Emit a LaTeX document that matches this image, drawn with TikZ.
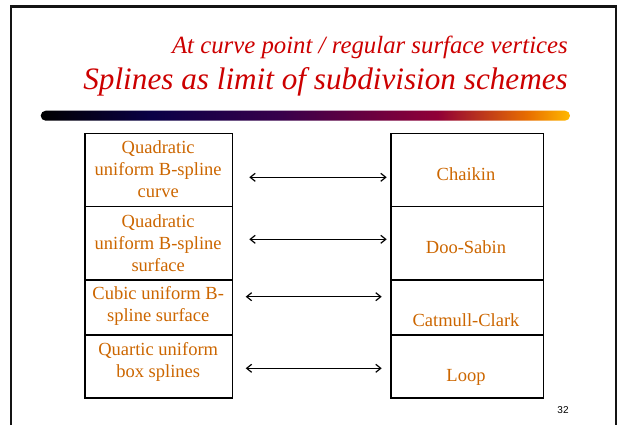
\documentclass[tikz,border=0pt]{standalone}
\usepackage{fontspec}
\setmainfont{Liberation Serif}[ItalicFont={Liberation Serif Italic}]
\newfontfamily\pagenumfont{Liberation Sans}
\newfontfamily\titleitfont{Liberation Serif Italic}
\usetikzlibrary{arrows.meta}
\definecolor{titlered}{RGB}{204,0,0}
\definecolor{boxtext}{RGB}{204,102,0}
\definecolor{framegray}{RGB}{20,20,20}
\definecolor{c0}{RGB}{0,0,0}
\definecolor{c1}{RGB}{10,0,70}
\definecolor{c2}{RGB}{55,0,75}
\definecolor{c3}{RGB}{145,0,55}
\definecolor{c4}{RGB}{232,110,0}
\definecolor{c5}{RGB}{255,185,0}
\pgfdeclarehorizontalshading{barshadeb}{100bp}{%
  color(0bp)=(c0);
  color(25bp)=(c0);
  color(35.5bp)=(c1);
  color(47.5bp)=(c2);
  color(62.5bp)=(c3);
  color(71bp)=(c4);
  color(75bp)=(c5);
  color(100bp)=(c5)}
\begin{document}
\begin{tikzpicture}[x=1pt,y=-1pt,
  cell/.style={draw=black,line width=1.4pt,inner sep=0pt,anchor=north west},
  celltext/.style={text=boxtext,align=center,inner sep=0pt,
    font=\fontsize{18.5}{22}\selectfont},
  linkarrow/.style={{Straight Barb[length=5pt,width=8pt,line width=1.2pt]}-{Straight Barb[length=5pt,width=8pt,line width=1.2pt]},line width=1.3pt,black},
  titlefont/.style={text=titlered,inner sep=0pt,anchor=base east}]
\useasboundingbox (0,0) rectangle (620,425);
% frame
\draw[framegray,line width=2.2pt] (11,425) -- (11,6.5) -- (616,6.5) -- (616,425);
% titles
\node[titlefont,font=\titleitfont\fontsize{24.8}{28}\selectfont] (t1) at (568,53.3) {At curve point / regular surface vertices};
\node[titlefont,font=\titleitfont\fontsize{31.2}{34}\selectfont] (t2) at (568,90) {Splines as limit of subdivision schemes};
% bar
\shade[shading=barshadeb,rounded corners=5pt] (40.7,110.7) rectangle (570,120.7);
% left cells
\node[cell,minimum width=147.7pt,minimum height=73pt] (L1) at (84.3,132.7) {};
\node[cell,minimum width=147.7pt,minimum height=73.6pt] (L2) at (84.3,205.7) {};
\node[cell,minimum width=147.7pt,minimum height=55pt] (L3) at (84.3,279.3) {};
\node[cell,minimum width=147.7pt,minimum height=63pt] (L4) at (84.3,334.3) {};
% right cells
\node[cell,minimum width=152.4pt,minimum height=73pt] (R1) at (390.3,132.7) {};
\node[cell,minimum width=152.4pt,minimum height=73.6pt] (R2) at (390.3,205.7) {};
\node[cell,minimum width=152.4pt,minimum height=55pt] (R3) at (390.3,279.3) {};
\node[cell,minimum width=152.4pt,minimum height=63pt] (R4) at (390.3,334.3) {};
% left texts
\node[celltext] (lt1) at (158.2,171.45) {\strut Quadratic\\\strut uniform B-spline\\\strut curve};
\node[celltext] (lt2) at (158.2,244.8) {\strut Quadratic\\\strut uniform B-spline\\\strut surface};
\node[celltext] (lt3) at (158.2,306.45) {\strut Cubic uniform B-\\\strut spline surface};
\node[celltext] (lt4) at (158.2,361.6) {\strut Quartic uniform\\\strut box splines};
% right texts
\node[celltext] (rt1) at (466,176.1) {\strut Chaikin};
\node[celltext] (rt2) at (466,249.1) {\strut Doo-Sabin};
\node[celltext] (rt3) at (466,322.1) {\strut Catmull-Clark};
\node[celltext] (rt4) at (466,377.1) {\strut Loop};
% arrows
\coordinate (a1l) at (249.3,177.3); \coordinate (a1r) at (386.7,177.3);
\coordinate (a2l) at (249.3,239.3); \coordinate (a2r) at (386.7,239.3);
\coordinate (a3l) at (245.7,296.7); \coordinate (a3r) at (381.7,296.7);
\coordinate (a4l) at (245.7,368.3); \coordinate (a4r) at (381.7,368.3);
\draw[linkarrow] (a1l) -- (a1r);
\draw[linkarrow] (a2l) -- (a2r);
\draw[linkarrow] (a3l) -- (a3r);
\draw[linkarrow] (a4l) -- (a4r);
% page number
\node[inner sep=0pt,font=\pagenumfont\fontsize{10}{12}\selectfont] (pn) at (563,410) {32};
\end{tikzpicture}
\end{document}
